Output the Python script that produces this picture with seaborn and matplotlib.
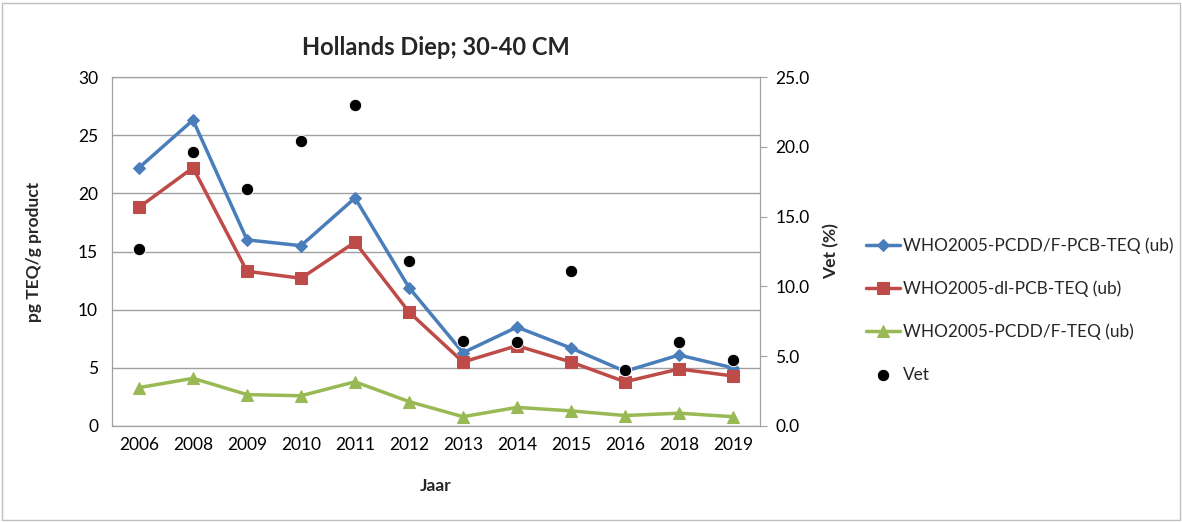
import numpy as np
import pandas as pd
import matplotlib
matplotlib.use("Agg")
import matplotlib.pyplot as plt
import seaborn as sb

# waarden
jaren = ["2006", "2008", "2009", "2010", "2011", "2012", "2013", "2014", "2015", "2016", "2018", "2019"]
totaal_teq = [22.2, 26.3, 16.0, 15.5, 19.6, 11.9, 6.3, 8.5, 6.7, 4.7, 6.1, 5.0]
dl_pcb_teq = [18.8, 22.2, 13.3, 12.7, 15.8, 9.8, 5.5, 6.9, 5.5, 3.8, 4.9, 4.3]
pcdd_teq = [3.3, 4.1, 2.7, 2.6, 3.8, 2.1, 0.8, 1.6, 1.3, 0.9, 1.1, 0.8]
vet = [12.7, 19.6, 17.0, 20.4, 23.0, 11.8, 6.1, 6.0, 11.1, 4.0, 6.0, 4.7]

namen = ["WHO2005-PCDD/F-PCB-TEQ (ub)", "WHO2005-dl-PCB-TEQ (ub)", "WHO2005-PCDD/F-TEQ (ub)"]
kleuren = ["#4a7ebb", "#be4b48", "#98b954"]
markers = ["D", "s", "^"]
groottes = [6, 9, 8]

df = pd.DataFrame({"jaar": jaren, namen[0]: totaal_teq, namen[1]: dl_pcb_teq, namen[2]: pcdd_teq, "Vet": vet})
df["pos"] = np.arange(len(jaren))

sb.set_style("white")
plt.rcParams['font.family'] = ['Lato', 'DejaVu Sans']

fig = plt.figure(figsize=(11.82, 5.22), dpi=100)
ax = fig.add_axes([112/1182, 1 - 426/522, 648/1182, 349/522])
ax2 = ax.twinx()

for naam, kleur, m, s in zip(namen, kleuren, markers, groottes):
    sb.lineplot(data=df, x="pos", y=naam, ax=ax, color=kleur, marker=m, markersize=s,
                markeredgecolor=kleur, linewidth=2.5, label=naam, legend=False)

sb.scatterplot(data=df, x="pos", y="Vet", ax=ax2, color="black", s=80, label="Vet", legend=False, zorder=5)

ax.set_xlim(-0.5, len(jaren) - 0.5)
ax.set_ylim(0, 30)
ax.set_yticks(range(0, 31, 5))
ax2.set_ylim(0, 25)
ax2.set_yticks(range(0, 26, 5))
ax2.set_yticklabels([f"{v:.1f}" for v in range(0, 26, 5)])
ax.set_xticks(df["pos"])
ax.set_xticklabels(jaren)

ax.grid(axis="y", color="#a0a0a0", linewidth=1)
ax.set_axisbelow(True)
for a in (ax, ax2):
    for sp in a.spines.values():
        sp.set_color("#a0a0a0")
    a.tick_params(labelsize=12.5, colors="black")
ax.tick_params(axis="x", length=0, pad=8)
ax.tick_params(axis="y", length=0, pad=10)
ax2.tick_params(axis="y", length=5, color="#a0a0a0", direction="out", pad=6)

ax.set_xlabel("Jaar", fontsize=12.5, fontweight="bold", labelpad=18)
ax.set_ylabel("pg TEQ/g product", fontsize=12.5, fontweight="bold", labelpad=26)
ax2.set_ylabel("Vet (%)", fontsize=12.5, fontweight="bold", labelpad=10)
ax.set_title("Hollands Diep; 30-40 CM", fontsize=17, fontweight="bold", pad=16)

h1, l1 = ax.get_legend_handles_labels()
h2, l2 = ax2.get_legend_handles_labels()
fig.legend(h1 + h2, l1 + l2, loc="center left", bbox_to_anchor=(866/1182, 1 - 310/522),
           frameon=False, fontsize=12.4, labelspacing=1.55, handlelength=2.0, handletextpad=0.15,
           borderpad=0, borderaxespad=0)

fig.patches.append(plt.Rectangle((0.002, 0.004), 0.996, 0.99, transform=fig.transFigure,
                                 fill=False, edgecolor="#bfbfbf", linewidth=1))

fig.savefig("out.png", dpi=100)
